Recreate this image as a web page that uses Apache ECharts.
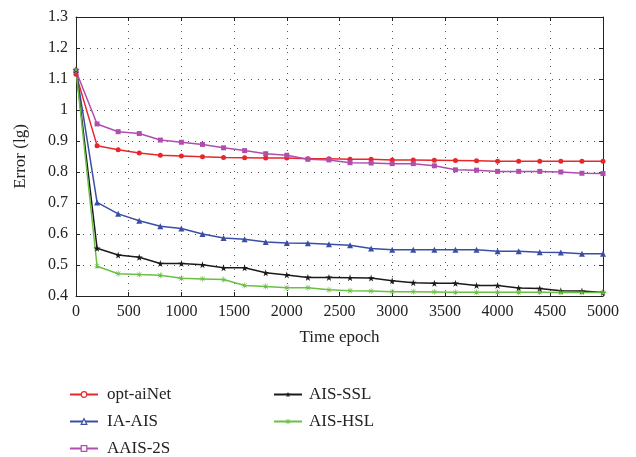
<!DOCTYPE html>
<html><head><meta charset="utf-8">
<script src="https://cdn.jsdelivr.net/npm/echarts@6/dist/echarts.min.js"></script>
<style>html,body{margin:0;padding:0;background:#fff}#c{width:636px;height:457px}</style>
</head><body><div id="c"></div>
<script>
var epochs = [0,200,400,600,800,1000,1200,1400,1600,1800,2000,2200,2400,2600,2800,3000,3200,3400,3600,3800,4000,4200,4400,4600,4800,5000];
var optAiNet = [1.115,0.885,0.872,0.861,0.854,0.852,0.849,0.847,0.846,0.845,0.845,0.843,0.843,0.841,0.841,0.839,0.839,0.838,0.837,0.836,0.835,0.835,0.835,0.835,0.835,0.835];
var iaAis = [1.13,0.702,0.665,0.643,0.625,0.618,0.600,0.587,0.583,0.574,0.571,0.570,0.567,0.564,0.553,0.549,0.549,0.549,0.549,0.549,0.544,0.544,0.541,0.540,0.536,0.536];
var aais2s = [1.126,0.955,0.930,0.924,0.903,0.896,0.889,0.878,0.869,0.859,0.854,0.841,0.839,0.830,0.829,0.827,0.827,0.820,0.807,0.806,0.802,0.802,0.802,0.800,0.796,0.795];
var aisSsl = [1.13,0.554,0.532,0.525,0.505,0.505,0.501,0.491,0.491,0.475,0.468,0.460,0.460,0.459,0.458,0.449,0.443,0.441,0.441,0.434,0.434,0.426,0.424,0.417,0.416,0.411];
var aisHsl = [1.13,0.496,0.472,0.469,0.467,0.457,0.455,0.453,0.434,0.431,0.427,0.427,0.420,0.417,0.416,0.414,0.414,0.413,0.412,0.412,0.412,0.412,0.412,0.411,0.411,0.411];
var seriesNames = ['opt-aiNet','IA-AIS','AAIS-2S','AIS-SSL','AIS-HSL'];

function pairs(v){ return epochs.map(function(e,i){ return [e, v[i]]; }); }
var STAR = 'path://M50,0 L61,35 L98,35 L68,57 L79,91 L50,70 L21,91 L32,57 L2,35 L39,35 Z';
var AST = 'path://M45,0 L55,0 L55,100 L45,100 Z M0,45 L100,45 L100,55 L0,55 Z M10,17 L17,10 L90,83 L83,90 Z M83,10 L90,17 L17,90 L10,83 Z';
var font = 'Liberation Serif';
var txt = '#222';
var cfg = [
  {name:seriesNames[0], data:optAiNet, color:'#e8262b', symbol:'circle', size:5, hollow:true},
  {name:seriesNames[1], data:iaAis, color:'#3b4ea6', symbol:'triangle', size:6, hollow:true},
  {name:seriesNames[2], data:aais2s, color:'#b04daf', symbol:'rect', size:5, hollow:true},
  {name:seriesNames[3], data:aisSsl, color:'#1a1a1a', symbol:STAR, size:7, hollow:false},
  {name:seriesNames[4], data:aisHsl, color:'#6cbf45', symbol:AST, size:6, hollow:false}
];
var series = cfg.map(function(c){
  return {name:c.name, type:'line', data:pairs(c.data), symbol:c.symbol, symbolSize:c.size,
    showSymbol:true, itemStyle:{color:c.color}, lineStyle:{color:c.color,width:1.5}, animation:false};
});
function legendItem(c){
  var it = {name:c.name};
  if (c.hollow) it.itemStyle = {color:'#fff', borderColor:c.color, borderWidth:1.2};
  return it;
}
var axisLine = {show:true,onZero:false,lineStyle:{color:'#222',width:1}};
var tick = {show:true,inside:true,length:4,lineStyle:{color:'#222'}};
var split = {show:true,lineStyle:{type:[1,6],color:'#555',width:1}};
var chart = echarts.init(document.getElementById('c'));
chart.setOption({
  animation:false,
  grid:{left:76,right:33,top:17,bottom:161,containLabel:false},
  xAxis:[
   {type:'value',min:0,max:5000,interval:500,name:'Time epoch',nameLocation:'middle',nameGap:33,
    nameTextStyle:{fontFamily:font,fontSize:17,color:txt},
    axisLine:axisLine, axisTick:tick,
    axisLabel:{fontFamily:font,fontSize:16,color:txt,margin:8,formatter:function(v){return String(v);}},
    splitLine:split},
   {type:'value',position:'top',min:0,max:5000,interval:500,axisLine:axisLine,axisTick:tick,
    axisLabel:{show:false},splitLine:{show:false}}
  ],
  yAxis:[
   {type:'value',min:0.4,max:1.3,interval:0.1,name:'Error (lg)',nameLocation:'middle',nameGap:47,
    nameTextStyle:{fontFamily:font,fontSize:17,color:txt},
    axisLine:axisLine, axisTick:tick,
    axisLabel:{fontFamily:font,fontSize:16,color:txt,margin:8},
    splitLine:split},
   {type:'value',position:'right',min:0.4,max:1.3,interval:0.1,axisLine:axisLine,axisTick:tick,
    axisLabel:{show:false},splitLine:{show:false}}
  ],
  legend:[
    {orient:'vertical',left:64,top:381,height:80,itemWidth:28,itemHeight:7,itemGap:10,
     textStyle:{fontFamily:font,fontSize:17,color:txt,padding:[0,0,0,4]},
     data:cfg.slice(0,3).map(legendItem)},
    {orient:'vertical',left:268,top:381,height:80,itemWidth:28,itemHeight:7,itemGap:10,
     textStyle:{fontFamily:font,fontSize:17,color:txt,padding:[0,0,0,2]},
     data:cfg.slice(3).map(legendItem)}
  ],
  series:series
});
</script></body></html>
